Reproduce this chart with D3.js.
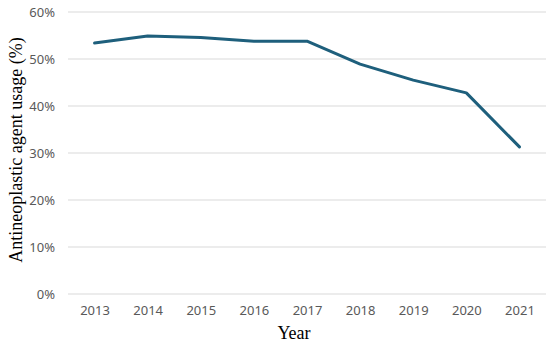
<!DOCTYPE html>
<html>
<head>
<meta charset="utf-8">
<script src="https://cdn.jsdelivr.net/npm/d3@7"></script>
<style>
  body { margin: 0; background: #fff; }
</style>
</head>
<body>
<svg id="plotSvg"></svg>
<script>
var years = ["2013", "2014", "2015", "2016", "2017", "2018", "2019", "2020", "2021"];
var usage = [53.4, 54.9, 54.6, 53.8, 53.8, 48.9, 45.5, 42.8, 31.3];
var yTicks = [0, 10, 20, 30, 40, 50, 60];

var width = 550, height = 344;
var margin = { top: 12, right: 4, bottom: 50, left: 68 };
var innerW = width - margin.left - margin.right,
  innerH = height - margin.top - margin.bottom;

var svg = d3.select("#plotSvg").attr("width", width).attr("height", height);
var g = svg.append("g").attr("transform", "translate(" + margin.left + "," + margin.top + ")");

var x = d3.scalePoint().domain(years).range([0, innerW]).padding(0.5);
var y = d3.scaleLinear().domain([0, 60]).range([innerH, 0]);

// gridlines
g.selectAll(".grid")
  .data(yTicks)
  .enter().append("line")
  .attr("x1", 0)
  .attr("x2", innerW)
  .attr("y1", function(d) { return y(d); })
  .attr("y2", function(d) { return y(d); })
  .attr("stroke", "#d9d9d9")
  .attr("stroke-width", 1);

var yAxis = d3.axisLeft(y).tickValues(yTicks).tickSize(0).tickPadding(13)
  .tickFormat(function(d) { return d + "%"; });
var yg = g.append("g").call(yAxis);
yg.select(".domain").remove();
yg.selectAll("text")
  .attr("font-family", "Noto Sans, sans-serif")
  .attr("font-size", 13)
  .attr("fill", "#595959");

var xAxis = d3.axisBottom(x).tickSize(0).tickPadding(12);
var xg = g.append("g").attr("transform", "translate(0," + innerH + ")").call(xAxis);
xg.select(".domain").remove();
xg.selectAll("text")
  .attr("font-family", "Noto Sans, sans-serif")
  .attr("font-size", 13)
  .attr("fill", "#595959");

var line = d3.line()
  .x(function(d, i) { return x(years[i]); })
  .y(function(d) { return y(d); });

g.append("path")
  .datum(usage)
  .attr("d", line)
  .attr("fill", "none")
  .attr("stroke", "#1e5f7c")
  .attr("stroke-width", 3)
  .attr("stroke-linejoin", "round")
  .attr("stroke-linecap", "round");

svg.append("text")
  .attr("transform", "translate(22,150) rotate(-90)")
  .attr("text-anchor", "middle")
  .attr("font-family", "Liberation Serif, serif")
  .attr("font-size", 18)
  .attr("fill", "#000")
  .text("Antineoplastic agent usage (%)");

svg.append("text")
  .attr("x", 294)
  .attr("y", 339)
  .attr("text-anchor", "middle")
  .attr("font-family", "Liberation Serif, serif")
  .attr("font-size", 18)
  .attr("fill", "#000")
  .text("Year");
</script>
</body>
</html>
